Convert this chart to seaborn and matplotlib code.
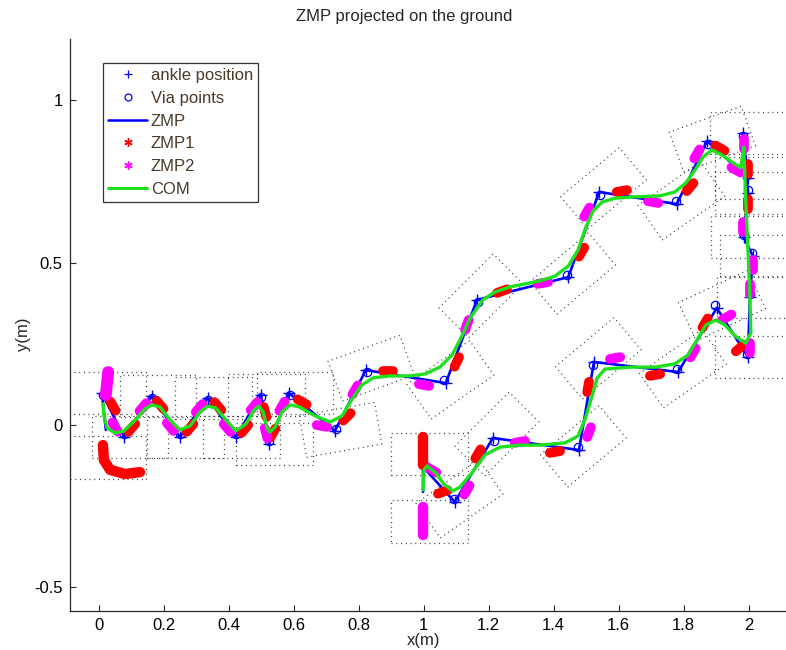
import numpy as np
import pandas as pd
import matplotlib
matplotlib.use('Agg')
import matplotlib.pyplot as plt
import seaborn as sns
from matplotlib.lines import Line2D

sns.set_theme(style='white')
plt.rcParams['font.family'] = ['Liberation Sans', 'DejaVu Sans']

# ---------------- data (metres) ----------------
com_x = [0.013, 0.016, 0.026, 0.050, 0.078, 0.112, 0.142, 0.164, 0.189, 0.220, 0.250, 0.281,
         0.312, 0.336, 0.361, 0.392, 0.422, 0.453, 0.478, 0.493, 0.506, 0.518, 0.527, 0.543,
         0.564, 0.589, 0.619, 0.666, 0.712, 0.749, 0.782, 0.810, 0.844, 0.896, 0.958, 1.004,
         1.050, 1.087, 1.118, 1.143, 1.182, 1.219, 1.265, 1.327, 1.367, 1.404, 1.445, 1.475,
         1.498, 1.521, 1.549, 1.589, 1.650, 1.727, 1.773, 1.807, 1.835, 1.860, 1.887, 1.918,
         1.949, 1.976, 1.985, 1.991, 1.998, 2.004, 2.007, 1.991, 1.958, 1.927, 1.899, 1.869,
         1.841, 1.813, 1.773, 1.712, 1.635, 1.558, 1.534, 1.519, 1.498, 1.475, 1.435, 1.358,
         1.296, 1.235, 1.189, 1.143, 1.112, 1.090, 1.062, 1.038, 1.010, 1.001, 0.998]
com_y = [0.065, 0.028, -0.009, -0.025, -0.018, 0.015, 0.049, 0.062, 0.055, 0.015, -0.015, -0.003,
         0.040, 0.058, 0.052, 0.015, -0.018, 0.003, 0.046, 0.058, 0.040, -0.009, -0.022, -0.006,
         0.040, 0.062, 0.055, 0.028, 0.009, 0.028, 0.083, 0.123, 0.145, 0.151, 0.151, 0.157,
         0.178, 0.215, 0.274, 0.329, 0.385, 0.409, 0.425, 0.437, 0.446, 0.458, 0.489, 0.538,
         0.606, 0.658, 0.686, 0.698, 0.702, 0.705, 0.717, 0.745, 0.785, 0.825, 0.846, 0.831,
         0.809, 0.791, 0.855, 0.692, 0.538, 0.385, 0.283, 0.252, 0.274, 0.308, 0.323, 0.308,
         0.262, 0.215, 0.188, 0.178, 0.178, 0.172, 0.145, 0.092, 0.022, -0.034, -0.055, -0.062,
         -0.062, -0.068, -0.092, -0.154, -0.191, -0.203, -0.182, -0.148, -0.126, -0.138, -0.200]

zmp_x = [0.022, 0.010, 0.078, 0.164, 0.250, 0.336, 0.422, 0.499, 0.524, 0.586, 0.727, 0.822,
         1.068, 1.164, 1.445, 1.540, 1.779, 1.872, 1.998, 1.982, 1.998, 1.985, 2.013, 2.004,
         1.998, 1.902, 1.783, 1.524, 1.478, 1.213, 1.096, 0.998, 0.998]
zmp_y = [-0.015, 0.098, -0.037, 0.089, -0.037, 0.083, -0.037, 0.092, -0.058, 0.098, -0.018, 0.169,
         0.129, 0.385, 0.455, 0.717, 0.680, 0.874, 0.760, 0.898, 0.714, 0.578, 0.520, 0.394,
         0.209, 0.360, 0.163, 0.194, -0.077, -0.040, -0.237, -0.129, -0.206]

ankle_x = [0.010, 0.078, 0.164, 0.250, 0.336, 0.422, 0.499, 0.524, 0.586, 0.727, 0.822, 1.068,
           1.164, 1.445, 1.540, 1.779, 1.872, 1.998, 1.982, 1.998, 1.985, 2.013, 2.004, 1.998,
           1.902, 1.783, 1.524, 1.478, 1.213, 1.096]
ankle_y = [0.098, -0.037, 0.089, -0.037, 0.083, -0.037, 0.092, -0.058, 0.098, -0.018, 0.169, 0.129,
           0.385, 0.455, 0.717, 0.680, 0.874, 0.760, 0.898, 0.714, 0.578, 0.520, 0.394, 0.209,
           0.360, 0.163, 0.194, -0.077, -0.040, -0.237]
via_x = [0.012, 0.078, 0.164, 0.250, 0.336, 0.422, 0.499, 0.524, 0.588, 0.730, 0.826, 1.064,
         1.168, 1.441, 1.543, 1.776, 1.874, 1.995, 1.984, 1.997, 1.986, 2.011, 2.003, 1.996,
         1.898, 1.779, 1.521, 1.474, 1.217, 1.094]
via_y = [0.092, -0.029, 0.083, -0.029, 0.077, -0.029, 0.086, -0.050, 0.092, -0.012, 0.163, 0.138,
         0.377, 0.463, 0.709, 0.688, 0.866, 0.768, 0.890, 0.722, 0.586, 0.528, 0.402, 0.217,
         0.368, 0.171, 0.186, -0.069, -0.048, -0.229]

# ZMP1 (red) clusters: centre and orientation (deg)
zmp1_x = [0.044, 0.102, 0.189, 0.281, 0.367, 0.450, 0.512, 0.536, 0.626, 0.764, 0.890, 1.102,
          1.241, 1.486, 1.610, 1.820, 1.912, 1.998, 1.998, 1.973, 1.866, 1.712, 1.506, 1.404,
          1.167, 1.059]
zmp1_y = [0.058, -0.009, 0.062, -0.009, 0.058, -0.012, 0.040, -0.025, 0.071, 0.025, 0.166, 0.194,
          0.412, 0.532, 0.720, 0.732, 0.852, 0.788, 0.680, 0.237, 0.314, 0.154, 0.117, -0.083,
          -0.089, -0.206]
zmp1_ang = [-60, 50, -50, 50, -50, 50, -75, 60, -30, 45, 0, 65,
            20, 60, 10, 50, -30, 90, 90, 40, 60, 10, 80, 10,
            60, 20]
# ZMP1 trails at the start and at the end stance
zmp1_start_x = [0.013, 0.016, 0.035, 0.081, 0.127]
zmp1_start_y = [-0.062, -0.108, -0.138, -0.151, -0.145]
zmp1_end_x = [0.998, 0.998]
zmp1_end_y = [-0.037, -0.123]

# ZMP2 (magenta) clusters
zmp2_x = [0.050, 0.136, 0.220, 0.309, 0.395, 0.478, 0.515, 0.564, 0.687, 0.789, 1.001, 1.133,
          1.367, 1.502, 1.706, 1.841, 1.961, 1.985, 1.982, 2.013, 2.004, 2.004, 1.933, 1.829,
          1.589, 1.509, 1.296, 1.133, 1.025]
zmp2_y = [-0.006, 0.055, -0.006, 0.052, -0.009, 0.058, -0.025, 0.058, -0.003, 0.108, 0.123, 0.308,
          0.437, 0.655, 0.686, 0.834, 0.785, 0.865, 0.609, 0.492, 0.418, 0.237, 0.332, 0.222,
          0.206, -0.022, -0.052, -0.200, -0.138]
zmp2_ang = [-60, 50, -50, 50, -50, 50, -75, 60, -10, 60, -10, 70,
            10, 60, -10, 60, -30, 90, 90, 90, 90, 90, 30, 60,
            10, 70, 10, 60, -30]
zmp2_start_x = [0.029, 0.022]
zmp2_start_y = [0.163, 0.092]
zmp2_end_x = [0.998, 0.998]
zmp2_end_y = [-0.252, -0.338]

# footprints: ankle position and heading (deg)
foot_x = [0.010, 0.012, 0.078, 0.164, 0.250, 0.336, 0.422, 0.499, 0.524, 0.586, 0.727, 0.822,
          1.068, 1.164, 1.445, 1.540, 1.779, 1.872, 1.998, 1.982, 1.998, 1.985, 2.013, 2.004,
          1.998, 1.902, 1.783, 1.524, 1.478, 1.213, 1.096, 1.000, 1.000]
foot_y = [0.098, -0.100, -0.037, 0.089, -0.037, 0.083, -0.037, 0.092, -0.058, 0.098, -0.018, 0.169,
          0.129, 0.385, 0.455, 0.717, 0.680, 0.874, 0.760, 0.898, 0.714, 0.578, 0.520, 0.394,
          0.209, 0.360, 0.163, 0.194, -0.077, -0.040, -0.237, -0.090, -0.297]
foot_h = [0, 0, 0, 0, 0, 0, 0, 0, 0, 0, 10, 20,
          35, 45, 40, 40, 35, 20, 0, 0, 0, 0, 0, 0,
          0, 25, 35, 40, 40, 45, 35, 0, 0]

legend_labels = ['ankle position', 'Via points', 'ZMP', 'ZMP1', 'ZMP2', 'COM']

# ---------------- styles ----------------
HEEL, TOE, HALFW = 0.10, 0.135, 0.065
BLOB_HALF = 0.016
BLUE, RED, MAG, GREEN = '#0000ff', '#ff0000', '#ff00ff', '#1fe01f'
TXT = '#4a3a2a'
FS = 12

fig = plt.figure(figsize=(7.86, 6.5), dpi=100)
ax = fig.add_axes([0.0887, 0.0605, 0.9113, 0.879])

# footprints
for fx, fy, fh in zip(foot_x, foot_y, foot_h):
    t = np.deg2rad(fh)
    f = np.array([np.cos(t), np.sin(t)])
    l = np.array([-np.sin(t), np.cos(t)])
    a = np.array([fx, fy])
    pts = [a - HEEL * f - HALFW * l, a + TOE * f - HALFW * l,
           a + TOE * f + HALFW * l, a - HEEL * f + HALFW * l, a - HEEL * f - HALFW * l]
    pts = np.array(pts)
    ax.plot(pts[:, 0], pts[:, 1], color='#333333', lw=0.9, dashes=(0.8, 3.0), zorder=1)

# ZMP line
sns.lineplot(x=zmp_x, y=zmp_y, sort=False, estimator=None, color=BLUE, lw=1.9, ax=ax, zorder=3)

# ankle positions / via points
ax.plot(ankle_x, ankle_y, ls='none', marker='+', ms=8, mew=1.0, color=BLUE, zorder=4)
ax.plot(via_x, via_y, ls='none', marker='o', ms=6, mfc='none', mew=0.9, color=BLUE, zorder=4)

# ZMP1 / ZMP2 clusters
def blob(cx, cy, ang, color, lw=7.0):
    t = np.deg2rad(ang)
    dx, dy = BLOB_HALF * np.cos(t), BLOB_HALF * np.sin(t)
    ax.plot([cx - dx, cx + dx], [cy - dy, cy + dy], color=color, lw=lw,
            solid_capstyle='round', zorder=5)

for cx, cy, an in zip(zmp1_x, zmp1_y, zmp1_ang):
    blob(cx, cy, an, RED)
for cx, cy, an in zip(zmp2_x, zmp2_y, zmp2_ang):
    blob(cx, cy, an, MAG)
ax.plot(zmp1_start_x, zmp1_start_y, color=RED, lw=7.5, solid_capstyle='round', zorder=5)
ax.plot(zmp1_end_x, zmp1_end_y, color=RED, lw=7.5, solid_capstyle='round', zorder=5)
ax.plot(zmp2_start_x, zmp2_start_y, color=MAG, lw=8.5, solid_capstyle='round', zorder=5)
ax.plot(zmp2_end_x, zmp2_end_y, color=MAG, lw=7.5, solid_capstyle='round', zorder=5)

# COM
sns.lineplot(x=com_x, y=com_y, sort=False, estimator=None, color=GREEN, lw=2.4, ax=ax, zorder=6)

# axes
ax.set_xlim(-0.0892, 2.115)
ax.set_ylim(-0.5714, 1.1868)
ax.set_xticks(np.arange(0, 2.01, 0.2))
ax.set_xticklabels(['0', '0.2', '0.4', '0.6', '0.8', '1', '1.2', '1.4', '1.6', '1.8', '2'])
ax.set_yticks([-0.5, 0, 0.5, 1])
ax.set_yticklabels(['-0.5', '0', '0.5', '1'])
for s in ['top', 'right']:
    ax.spines[s].set_visible(False)
for s in ['left', 'bottom']:
    ax.spines[s].set_color('#262626')
    ax.spines[s].set_linewidth(0.9)
ax.tick_params(direction='in', length=4, width=0.8, color='#262626', labelsize=FS,
               labelcolor='black', left=True, bottom=True, pad=5)
ax.set_xlabel('x(m)', fontsize=FS, labelpad=0)
ax.xaxis.label.set_x(0.4946)
ax.set_ylabel('y(m)', fontsize=FS, labelpad=2)
ax.yaxis.label.set_y(0.484)
ax.set_title('ZMP projected on the ground', fontsize=FS, pad=13)
ax.title.set_x(0.4667)
ax.grid(False)

AST = (6, 2, 0)
handles = [Line2D([], [], ls='none', marker='+', ms=6, mew=0.9, color=BLUE),
           Line2D([], [], ls='none', marker='o', ms=5, mfc='none', mew=0.9, color=BLUE),
           Line2D([], [], color=BLUE, lw=1.8),
           Line2D([], [], ls='none', marker=AST, ms=6, mew=1.0, color=RED),
           Line2D([], [], ls='none', marker=AST, ms=6, mew=1.0, color=MAG),
           Line2D([], [], color=GREEN, lw=2.2)]
leg = ax.legend(handles, legend_labels, loc='upper left', bbox_to_anchor=(0.047, 0.958),
                fontsize=FS, frameon=True, fancybox=False, edgecolor='black',
                handlelength=2.3, handletextpad=0.25, labelspacing=0.46, borderpad=0.3,
                borderaxespad=0)
leg.get_frame().set_linewidth(0.9)
for t in leg.get_texts():
    t.set_color(TXT)

fig.savefig('out.png', dpi=100, facecolor='white')
